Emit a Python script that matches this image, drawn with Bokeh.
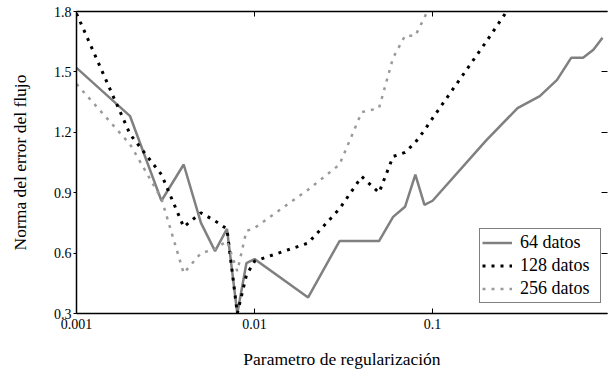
from bokeh.plotting import figure
from bokeh.models import (LogAxis, LinearAxis, FixedTicker, CustomJSTickFormatter,
                          Legend, LegendItem, Range1d)
from bokeh.embed import file_html
from bokeh.resources import INLINE

# Regularization parameter values (log scale)
lam_64 = [0.001, 0.002, 0.003, 0.004, 0.005, 0.006, 0.007, 0.008, 0.009,
          0.01, 0.02, 0.03, 0.04, 0.05, 0.06, 0.07, 0.08, 0.09,
          0.1, 0.2, 0.3, 0.4, 0.5, 0.6, 0.7, 0.8, 0.9]
err_64 = [1.52, 1.28, 0.86, 1.04, 0.75, 0.61, 0.72, 0.30, 0.55,
          0.57, 0.38, 0.66, 0.66, 0.66, 0.78, 0.83, 0.99, 0.84,
          0.86, 1.16, 1.32, 1.38, 1.46, 1.57, 1.57, 1.61, 1.67]

lam_128 = [0.001, 0.002, 0.003, 0.004, 0.005, 0.006, 0.007, 0.008, 0.009,
           0.01, 0.02, 0.03, 0.04, 0.05, 0.06, 0.07, 0.08, 0.09,
           0.1, 0.2, 0.3]
err_128 = [1.79, 1.19, 0.99, 0.73, 0.80, 0.76, 0.72, 0.30, 0.49,
           0.56, 0.65, 0.82, 0.98, 0.90, 1.08, 1.10, 1.15, 1.21,
           1.27, 1.65, 1.88]

lam_256 = [0.001, 0.002, 0.003, 0.004, 0.005, 0.006, 0.007, 0.008, 0.009,
           0.01, 0.02, 0.03, 0.04, 0.05, 0.06, 0.07, 0.08, 0.09, 0.1]
err_256 = [1.44, 1.14, 0.87, 0.50, 0.60, 0.62, 0.66, 0.51, 0.71,
           0.725, 0.915, 1.04, 1.30, 1.32, 1.57, 1.68, 1.68, 1.77, 1.86]

x_ticks = [0.001, 0.01, 0.1, 1.0]
y_ticks = [0.3, 0.6, 0.9, 1.2, 1.5, 1.8]

FONT = "Liberation Serif"

p = figure(width=608, height=373, x_axis_type="log",
           x_range=Range1d(0.001, 0.96), y_range=Range1d(0.3, 1.8),
           output_backend="svg", toolbar_location=None,
           min_border_left=76, min_border_top=11, min_border_bottom=60,
           min_border_right=1)
p.outline_line_color = None
p.xgrid.visible = False
p.ygrid.visible = False

r64 = p.line(lam_64, err_64, line_color="#808080", line_width=2.5)
r128 = p.line(lam_128, err_128, line_color="black", line_width=3, line_dash="3 6")
r256 = p.line(lam_256, err_256, line_color="#9a9a9a", line_width=2.5, line_dash="3 6")

empty = CustomJSTickFormatter(code="return '';")

# bottom axis
xa = p.xaxis[0]
xa.ticker = FixedTicker(ticks=x_ticks)
xa.formatter = CustomJSTickFormatter(code="return tick.toString();")
xa.minor_tick_line_color = None
xa.major_tick_in = 5
xa.major_tick_out = 0
xa.major_label_standoff = 5
xa.axis_line_width = 1.5
xa.axis_line_color = "black"
xa.major_tick_line_color = "black"
xa.major_label_text_font = FONT
xa.major_label_text_font_size = "14px"
xa.major_label_text_color = "black"
xa.axis_label = "Parametro de regularización"
xa.axis_label_text_font = FONT
xa.axis_label_text_font_size = "17.5px"
xa.axis_label_text_font_style = "normal"
xa.axis_label_text_color = "black"
xa.axis_label_standoff = 17

# left axis
ya = p.yaxis[0]
ya.ticker = FixedTicker(ticks=y_ticks)
ya.formatter = CustomJSTickFormatter(code="return tick.toFixed(1);")
ya.minor_tick_line_color = None
ya.major_tick_in = 0
ya.major_tick_out = 3
ya.major_label_standoff = 2
ya.axis_line_width = 1.5
ya.axis_line_color = "black"
ya.major_tick_line_color = "black"
ya.major_label_text_font = FONT
ya.major_label_text_font_size = "14px"
ya.major_label_text_color = "black"
ya.axis_label = "Norma del error del flujo"
ya.axis_label_text_font = FONT
ya.axis_label_text_font_size = "17.5px"
ya.axis_label_text_font_style = "normal"
ya.axis_label_text_color = "black"
ya.axis_label_standoff = 21

# top axis: line with inward ticks
top = LogAxis(ticker=FixedTicker(ticks=x_ticks), formatter=empty,
              major_tick_in=5, major_tick_out=0, major_label_standoff=0,
              major_label_text_font_size="0px", minor_tick_line_color=None,
              axis_line_width=1.5, axis_line_color="black")
p.add_layout(top, "above")

# right side: inward ticks only
right = LinearAxis(ticker=FixedTicker(ticks=y_ticks), formatter=empty,
                   major_tick_in=6, major_tick_out=0, major_label_standoff=0,
                   major_label_text_font_size="0px", minor_tick_line_color=None,
                   axis_line_color=None)
p.add_layout(right, "right")

legend = Legend(items=[LegendItem(label="64 datos", renderers=[r64]),
                       LegendItem(label="128 datos", renderers=[r128]),
                       LegendItem(label="256 datos", renderers=[r256])],
                location=(403, 10), margin=0, padding=2, spacing=0,
                glyph_width=30, glyph_height=23, label_height=23,
                label_width=78, label_standoff=8,
                label_text_font=FONT, label_text_font_size="18px",
                label_text_font_style="normal",
                label_text_color="black",
                border_line_color="black", border_line_width=1,
                background_fill_color="white", background_fill_alpha=1)
p.add_layout(legend)

open("out.html", "w").write(file_html(p, INLINE))
